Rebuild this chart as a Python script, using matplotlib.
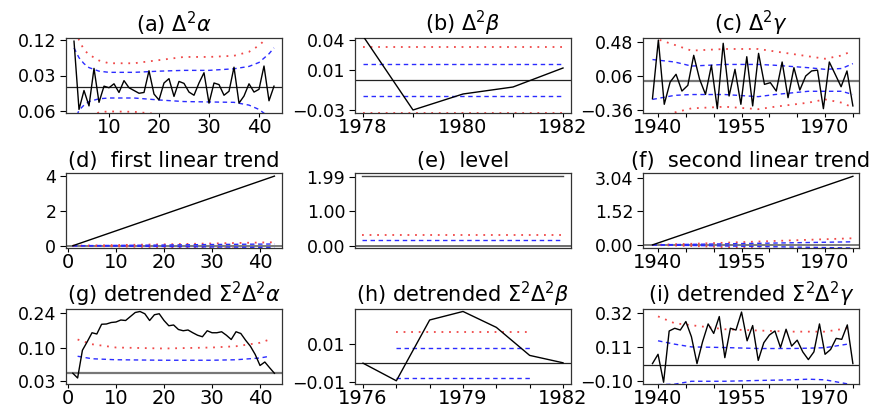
import numpy as np
import matplotlib
matplotlib.use("Agg")
import matplotlib.pyplot as plt

# ---- data ----

# (a) second differences of alpha, index 3..43
a_x = list(range(3, 44))
a_y = [0.117, -0.056, -0.008, -0.047, 0.048, -0.038, 0.003, -0.001, 0.009, -0.013,
       0.017, -0.001, -0.008, -0.015, -0.013, 0.042, -0.017, -0.032, 0.011, 0.022,
       -0.023, 0.015, 0.010, -0.012, -0.020, 0.011, 0.037, -0.040, 0.011, 0.007,
       -0.020, -0.010, 0.051, -0.040, -0.022, 0.009, -0.012, -0.005, 0.054, -0.034, 0.003]
a_band_x = [3, 4, 5, 6, 8, 10, 15, 20, 25, 30, 35, 38, 40, 42, 43]
a_red_up = [0.16, 0.12, 0.095, 0.083, 0.068, 0.061, 0.061, 0.069, 0.077, 0.077, 0.080, 0.090, 0.106, 0.13, 0.15]
a_blue_up = [0.100, 0.075, 0.060, 0.050, 0.041, 0.038, 0.038, 0.041, 0.043, 0.043, 0.047, 0.053, 0.063, 0.085, 0.100]
a_blue_lo = [-0.090, -0.058, -0.045, -0.036, -0.029, -0.027, -0.027, -0.032, -0.036, -0.037, -0.038, -0.045, -0.056, -0.075, -0.090]
a_red_lo = [-0.16, -0.12, -0.095, -0.08, -0.063, -0.061, -0.062, -0.068, -0.075, -0.078, -0.080, -0.090, -0.106, -0.13, -0.15]

# (b) second differences of beta
b_x = [1978, 1979, 1980, 1981, 1982]
b_y = [0.044, -0.030, -0.014, -0.007, 0.012]
b_band_x = [1978, 1982]
b_red_up = [0.033, 0.033]
b_blue_up = [0.016, 0.016]
b_blue_lo = [-0.016, -0.016]
b_red_lo = [-0.033, -0.033]

# (c) second differences of gamma (35 values over 1939..1975)
c_y = [-0.221, 0.50, -0.29, -0.016, 0.079, -0.127, -0.057, 0.312, 0.017, -0.168,
       0.189, -0.344, 0.46, -0.188, 0.14, -0.29, 0.295, -0.31, 0.336, -0.045,
       -0.024, -0.127, 0.23, -0.209, 0.16, -0.115, 0.058, 0.12, 0.13, -0.344,
       0.23, 0.079, -0.074, 0.12, -0.31]
c_x = np.linspace(1939, 1975, len(c_y))
c_band_x = [1939, 1943, 1946, 1952, 1958, 1961, 1967, 1970, 1973, 1975]
c_red_up = [0.53, 0.44, 0.37, 0.39, 0.39, 0.36, 0.30, 0.27, 0.31, 0.37]
c_blue_up = [0.26, 0.23, 0.18, 0.20, 0.20, 0.19, 0.16, 0.14, 0.15, 0.21]
c_blue_lo = [-0.23, -0.18, -0.17, -0.17, -0.196, -0.17, -0.13, -0.13, -0.13, -0.17]
c_red_lo = [-0.45, -0.39, -0.34, -0.32, -0.35, -0.32, -0.27, -0.23, -0.27, -0.33]

# (d) first linear trend
d_x = [1, 43]
d_y = [0.0, 4.0]
d_band_x = [1, 10, 20, 30, 43]
d_red_up = [0.0, 0.04, 0.08, 0.13, 0.20]
d_blue_up = [0.0, 0.02, 0.04, 0.07, 0.10]
d_blue_lo = [0.0, -0.02, -0.04, -0.07, -0.10]
d_red_lo = [0.0, -0.04, -0.08, -0.13, -0.20]

# (e) level
e_x = [1, 43]
e_y = [2.03, 2.03]
e_red_up = [0.32, 0.32]
e_blue_up = [0.17, 0.17]
e_blue_lo = [-0.17, -0.17]
e_red_lo = [-0.32, -0.32]

# (f) second linear trend
f_x = [1939, 1975]
f_y = [0.0, 3.1]
f_band_x = [1939, 1950, 1960, 1975]
f_red_up = [0.0, 0.08, 0.17, 0.30]
f_blue_up = [0.0, 0.04, 0.08, 0.14]
f_blue_lo = [0.0, -0.04, -0.08, -0.14]
f_red_lo = [0.0, -0.08, -0.17, -0.30]

# (g) detrended double sum of alpha
g_x = list(range(1, 44))
g_y = [0.0, -0.019, 0.092, 0.126, 0.162, 0.157, 0.196, 0.197, 0.203, 0.205,
       0.213, 0.211, 0.227, 0.243, 0.247, 0.238, 0.211, 0.234, 0.238, 0.211,
       0.190, 0.193, 0.175, 0.170, 0.173, 0.162, 0.152, 0.146, 0.170, 0.162,
       0.162, 0.166, 0.152, 0.135, 0.166, 0.159, 0.132, 0.108, 0.075, 0.031,
       0.045, 0.022, 0.0]
g_band_x = [2, 5, 10, 20, 30, 35, 40, 42]
g_red_up = [0.135, 0.116, 0.103, 0.099, 0.103, 0.108, 0.122, 0.135]
g_blue_up = [0.068, 0.058, 0.054, 0.052, 0.052, 0.054, 0.061, 0.068]
g_blue_lo = [-0.068, -0.058, -0.054, -0.052, -0.052, -0.054, -0.061, -0.068]
g_red_lo = [-0.135, -0.116, -0.103, -0.099, -0.103, -0.108, -0.122, -0.135]

# (h) detrended double sum of beta
h_x = [1976, 1977, 1978, 1979, 1980, 1981, 1982]
h_y = [0.0, -0.0093, 0.0228, 0.0273, 0.0189, 0.0041, 0.0002]
h_band_x = [1977, 1981]
h_red_up = [0.0163, 0.0163]
h_blue_up = [0.0082, 0.0082]
h_blue_lo = [-0.0080, -0.0080]
h_red_lo = [-0.0163, -0.0163]

# (i) detrended double sum of gamma
i_x = list(range(1939, 1976))
i_y = [0.006, 0.064, -0.110, 0.209, 0.226, 0.215, 0.268, 0.173, 0.006, 0.142,
       0.253, 0.194, 0.299, 0.043, 0.226, 0.215, 0.327, 0.148, 0.243, 0.026,
       0.136, 0.184, 0.209, 0.106, 0.220, 0.115, 0.152, 0.079, 0.031, 0.079,
       0.253, 0.064, 0.094, 0.163, 0.157, 0.247, 0.006]
i_band_x = [1940, 1943, 1946, 1952, 1958, 1964, 1967, 1970, 1974]
i_red_up = [0.30, 0.257, 0.245, 0.22, 0.212, 0.205, 0.205, 0.205, 0.226]
i_blue_up = [0.148, 0.127, 0.11, 0.106, 0.10, 0.10, 0.102, 0.105, 0.127]
i_blue_lo = [-0.125, -0.122, -0.104, -0.104, -0.099, -0.095, -0.091, -0.095, -0.12]
i_red_lo = [-0.28, -0.25, -0.24, -0.22, -0.21, -0.2, -0.2, -0.2, -0.22]

RED = '#f04848'
BLUE = '#2b2bff'

plt.rcParams['font.family'] = ['DejaVu Sans']


# Build one panel at a given row/column of the 3x3 grid (pixel layout)
def add_panel(fig, row, col):
    cols = [66, 355, 643]
    tops = [38, 173, 309]
    w, h = 216, 75
    left = cols[col] / 887
    bottom = (409 - tops[row] - h) / 409
    return fig.add_axes([left, bottom, w / 887, h / 409])


def draw_panel(ax, title, x, y, bx, red_up, blue_up, blue_lo, red_lo,
               xlim, ylim, yticks, ylabels, xticks, xlabels,
               zero_color='#222222', zero_lw=0.9, line_color='black'):
    ax.axhline(0, color=zero_color, lw=zero_lw, zorder=1)
    # red dotted = outer band, blue dashed = inner band
    ax.plot(bx, red_up, color=RED, lw=1.3, ls=(0, (1, 3.2)), zorder=2)
    ax.plot(bx, red_lo, color=RED, lw=1.3, ls=(0, (1, 3.2)), zorder=2)
    ax.plot(bx, blue_up, color=BLUE, lw=1.0, ls=(0, (3.2, 2.6)), zorder=2)
    ax.plot(bx, blue_lo, color=BLUE, lw=1.0, ls=(0, (3.2, 2.6)), zorder=2)
    ax.plot(x, y, color=line_color, lw=1.0, zorder=3)

    ax.set_xlim(*xlim)
    ax.set_ylim(*ylim)
    ax.set_yticks(yticks)
    ax.set_yticklabels(ylabels)
    ax.set_xticks(xticks)
    ax.set_xticklabels(xlabels)
    ax.tick_params(axis='y', direction='out', length=4, width=0.8, pad=3, labelsize=12.5)
    ax.tick_params(axis='x', direction='out', length=3, width=0.8, pad=0.5, labelsize=14)
    for sp in ax.spines.values():
        sp.set_linewidth(0.9)
        sp.set_color('#333333')
    ax.set_title(title, fontsize=15, pad=4)


fig = plt.figure(figsize=(8.87, 4.09), dpi=100)

yrs5 = list(range(1940, 1976, 5))
yrs5_lab = ['1940', '', '', '1955', '', '', '1970', '']

ax = add_panel(fig, 0, 0)
draw_panel(ax, r'(a) $\Delta^2\alpha$', a_x, a_y, a_band_x, a_red_up, a_blue_up, a_blue_lo, a_red_lo,
           (1.4, 44.6), (-0.065, 0.125), [-0.06, 0.03, 0.12], ['0.06', '0.03', '0.12'],
           [10, 20, 30, 40], ['10', '20', '30', '40'])

ax = add_panel(fig, 0, 1)
draw_panel(ax, r'(b) $\Delta^2\beta$', b_x, b_y, b_band_x, b_red_up, b_blue_up, b_blue_lo, b_red_lo,
           (1977.84, 1982.16), (-0.033, 0.042), [-0.03, 0.01, 0.04], ['\u22120.03', '0.01', '0.04'],
           [1978, 1979, 1980, 1981, 1982], ['1978', '', '1980', '', '1982'])

ax = add_panel(fig, 0, 2)
draw_panel(ax, r'(c) $\Delta^2\gamma$', c_x, c_y, c_band_x, c_red_up, c_blue_up, c_blue_lo, c_red_lo,
           (1937.3, 1976.1), (-0.397, 0.525), [-0.36, 0.06, 0.48], ['\u22120.36', '0.06', '0.48'],
           yrs5, yrs5_lab, zero_color='#777777', zero_lw=1.6)

ax = add_panel(fig, 1, 0)
draw_panel(ax, '(d)  first linear trend', d_x, d_y, d_band_x, d_red_up, d_blue_up, d_blue_lo, d_red_lo,
           (-0.42, 44.58), (-0.13, 4.18), [0, 2, 4], ['0', '2', '4'],
           [0, 10, 20, 30, 40], ['0', '10', '20', '30', '40'], zero_color='#666666', zero_lw=1.2)

ax = add_panel(fig, 1, 1)
draw_panel(ax, '(e)  level', e_x, e_y, e_x, e_red_up, e_blue_up, e_blue_lo, e_red_lo,
           (-0.42, 44.58), (-0.07, 2.12), [0.0, 1.0, 1.99], ['0.00', '1.00', '1.99'],
           [], [], zero_color='#555555', zero_lw=1.2, line_color='#444444')

ax = add_panel(fig, 1, 2)
draw_panel(ax, '(f)  second linear trend', f_x, f_y, f_band_x, f_red_up, f_blue_up, f_blue_lo, f_red_lo,
           (1937.3, 1976.1), (-0.14, 3.25), [0.0, 1.52, 3.04], ['0.00', '1.52', '3.04'],
           yrs5, yrs5_lab, zero_color='#666666', zero_lw=1.2)

ax = add_panel(fig, 2, 0)
draw_panel(ax, r'(g) detrended $\Sigma^2\Delta^2\alpha$', g_x, g_y, g_band_x, g_red_up, g_blue_up, g_blue_lo, g_red_lo,
           (-0.42, 44.58), (-0.043, 0.257), [-0.03, 0.10, 0.24], ['0.03', '0.10', '0.24'],
           [0, 10, 20, 30, 40], ['0', '10', '20', '30', '40'], zero_color='#777777', zero_lw=1.6)

ax = add_panel(fig, 2, 1)
draw_panel(ax, r'(h) detrended $\Sigma^2\Delta^2\beta$', h_x, h_y, h_band_x, h_red_up, h_blue_up, h_blue_lo, h_red_lo,
           (1975.76, 1982.24), (-0.011, 0.0286), [-0.01, 0.01], ['\u22120.01', '0.01'],
           h_x, ['1976', '', '', '1979', '', '', '1982'])

ax = add_panel(fig, 2, 2)
draw_panel(ax, r'(i) detrended $\Sigma^2\Delta^2\gamma$', i_x, i_y, i_band_x, i_red_up, i_blue_up, i_blue_lo, i_red_lo,
           (1937.3, 1976.1), (-0.121, 0.346), [-0.10, 0.11, 0.32], ['\u22120.10', '0.11', '0.32'],
           yrs5, yrs5_lab)

fig.savefig('out.png', dpi=100)
